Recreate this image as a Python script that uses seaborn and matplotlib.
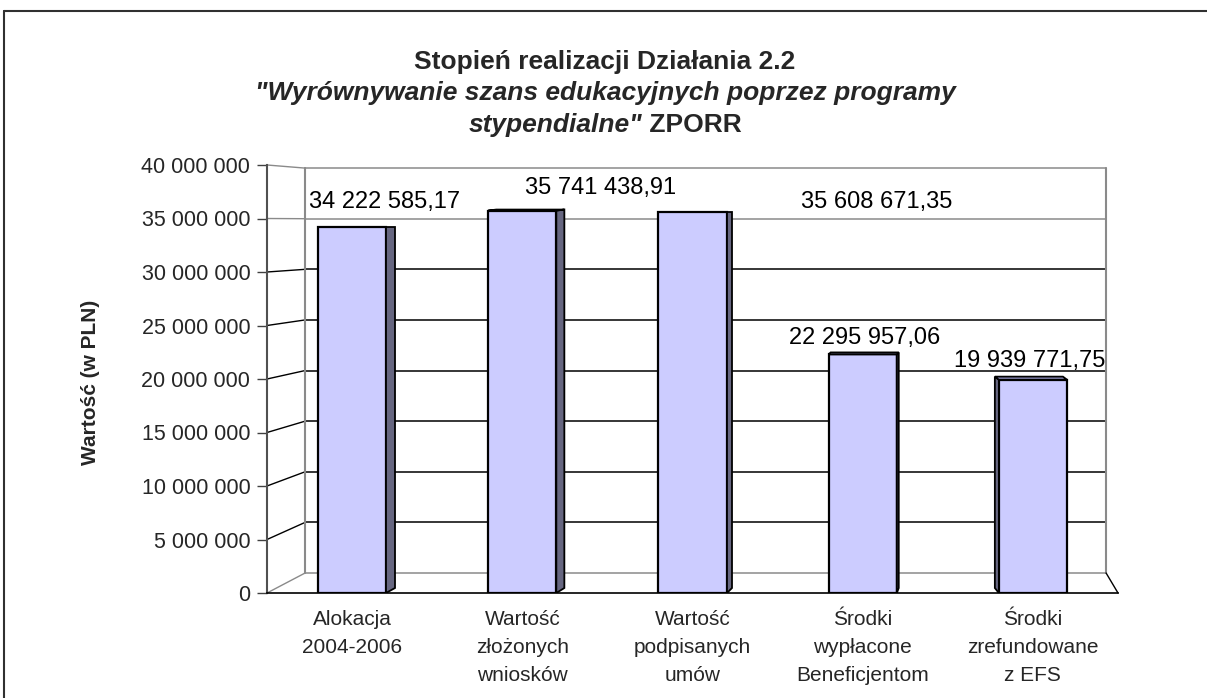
import matplotlib
matplotlib.use("Agg")
import matplotlib.pyplot as plt
import seaborn as sns
import pandas as pd
from matplotlib.lines import Line2D
from matplotlib.patches import Polygon
from matplotlib.ticker import FuncFormatter, FixedLocator

# ---- data -------------------------------------------------------------
categories = [
    "Alokacja\n2004-2006",
    "Wartość\nzłożonych\nwniosków",
    "Wartość\npodpisanych\numów",
    "Środki\nwypłacone\nBeneficjentom",
    "Środki\nzrefundowane\nz EFS",
]
values = [34222585.17, 35741438.91, 35608671.35, 22295957.06, 19939771.75]
y_ticks = [0, 5_000_000, 10_000_000, 15_000_000, 20_000_000,
           25_000_000, 30_000_000, 35_000_000, 40_000_000]

# ---- layout (pseudo-3D look) -----------------------------------------
W, H, DPI = 1207, 698, 100
PX_X = 170.0                 # pixels per category on the front plane
PX_Y = 428.0 / 40e6          # pixels per PLN on the front plane
BACK_X0, BACK_X1 = -0.276, 4.43          # back wall horizontal extent
BACK_OFF, BACK_SCALE = 1.87e6, 0.946     # back wall vertical mapping
side_dx_px = [9, 8, 5, 2, -4]            # bar depth (side face width)
top_dy_px = [0, 1, 0, 2, 3]              # visible top face height
label_dx = [0.19, 0.46, 1.08, 0.01, -0.02]   # value label shift (categories)
label_dy_px = [25, 23, 10, 16, 19]           # value label lift above bar


def back_y(v):
    return BACK_OFF + BACK_SCALE * v


def pl_int(v, _pos=None):
    return f"{int(round(v)):,}".replace(",", " ")


def pl_money(v):
    return f"{v:,.2f}".replace(",", " ").replace(".", ",")


sns.set_theme(style="white")
plt.rcParams["font.family"] = ["Liberation Sans", "DejaVu Sans"]

df = pd.DataFrame({"kategoria": categories, "wartosc": values})

fig = plt.figure(figsize=(W / DPI, H / DPI), dpi=DPI)
fig.patch.set_facecolor("white")

# outer frame of the chart area
fig.add_artist(Line2D([4 / W, 4 / W], [0, 1 - 11 / H], transform=fig.transFigure,
                      color="#303030", lw=1.5))
fig.add_artist(Line2D([4 / W, 1], [1 - 11 / H, 1 - 11 / H], transform=fig.transFigure,
                      color="#303030", lw=1.5))

ax = fig.add_axes([267 / W, 1 - 593 / H, (1118 - 267) / W, (593 - 165) / H])
ax.set_facecolor("none")

# back wall with gridlines and the floor edges
grey = "#8a8a8a"
for v in y_ticks:
    col = grey if v in (0, 35_000_000, 40_000_000) else "black"
    ax.plot([BACK_X0, BACK_X1], [back_y(v), back_y(v)], color=col, lw=1.1,
            zorder=0.5, clip_on=False)
    ax.plot([-0.5, BACK_X0], [v, back_y(v)], color=col, lw=1.0,
            zorder=0.5, clip_on=False)
ax.plot([BACK_X0, BACK_X0], [back_y(0), back_y(40e6)], color=grey, lw=1.5,
        zorder=0.5, clip_on=False)
ax.plot([BACK_X1, BACK_X1], [back_y(0), back_y(40e6)], color=grey, lw=1.5,
        zorder=0.5, clip_on=False)
ax.plot([BACK_X1, 4.5], [back_y(0), 0], color="black", lw=1.0,
        zorder=0.5, clip_on=False)

# front faces of the bars
sns.barplot(data=df, x="kategoria", y="wartosc", color="#CCCCFF",
            edgecolor="black", linewidth=1.6, width=0.4, saturation=1,
            ax=ax, zorder=2)

# side and top faces give the bars their depth
for patch, dxp, dyp in zip(ax.patches, side_dx_px, top_dy_px):
    x0 = patch.get_x()
    x1 = x0 + patch.get_width()
    h = patch.get_height()
    dx = dxp / PX_X
    dyt = dyp / PX_Y
    dyb = 5 / PX_Y
    edge = x1 if dx > 0 else x0
    side = Polygon([(edge, 0), (edge, h), (edge + dx, h + dyt), (edge + dx, dyb)],
                   closed=True, facecolor="#666680", edgecolor="black", lw=1.3,
                   zorder=2.5)
    ax.add_patch(side)
    if dyp > 0:
        top = Polygon([(x0, h), (x1, h), (x1 + dx, h + dyt), (x0 + dx, h + dyt)],
                      closed=True, facecolor="#9999CC", edgecolor="black", lw=1.3,
                      zorder=2.6)
        ax.add_patch(top)

# value labels
for i, (v, ldx, ldy) in enumerate(zip(values, label_dx, label_dy_px)):
    ax.text(i + ldx, v + ldy / PX_Y, pl_money(v), ha="center", va="center",
            fontsize=17, color="black", zorder=5, clip_on=False)

# axes styling
ax.set_xlim(-0.5, 4.5)
ax.set_ylim(0, 40e6)
ax.yaxis.set_major_locator(FixedLocator(y_ticks))
ax.yaxis.set_major_formatter(FuncFormatter(pl_int))
ax.set_xticks(range(len(categories)))
ax.set_xticklabels(categories, fontsize=15, linespacing=1.62)
ax.set_xticks([i - 0.5 for i in range(len(categories) + 1)], minor=True)
ax.tick_params(axis="x", which="major", length=0, pad=12)
ax.tick_params(axis="x", which="minor", length=8, direction="out",
               color="black", width=1)
ax.tick_params(axis="y", length=7, direction="out", color="#404040",
               width=1, pad=5, labelsize=15.5, left=True)
for s in ("top", "right"):
    ax.spines[s].set_visible(False)
ax.spines["left"].set_color("#505050")
ax.spines["left"].set_linewidth(1.5)
ax.spines["bottom"].set_color("black")
ax.spines["bottom"].set_linewidth(1.2)
ax.set_xlabel("")
ax.set_ylabel("")

fig.text(90 / W, 1 - 382 / H, "Wartość (w PLN)", rotation=90, ha="center",
         va="center", fontsize=15, fontweight="bold")

# title
TS = 19
fig.text(605 / W, 1 - 62 / H, "Stopień realizacji Działania 2.2", ha="center",
         va="center", fontsize=TS, fontweight="bold")
fig.text(605 / W, 1 - 93 / H, "\"Wyrównywanie szans edukacyjnych poprzez programy",
         ha="center", va="center", fontsize=TS, fontweight="bold", style="italic")
t1 = fig.text(0, 1 - 125 / H, "stypendialne\"", ha="left", va="center",
              fontsize=TS, fontweight="bold", style="italic")
t2 = fig.text(0, 1 - 125 / H, " ZPORR", ha="left", va="center",
              fontsize=TS, fontweight="bold")
r = fig.canvas.get_renderer()
w1 = t1.get_window_extent(r).width
w2 = t2.get_window_extent(r).width
start = 605 - (w1 + w2) / 2
t1.set_x(start / W)
t2.set_x((start + w1) / W)

fig.savefig("out.png", dpi=DPI)
